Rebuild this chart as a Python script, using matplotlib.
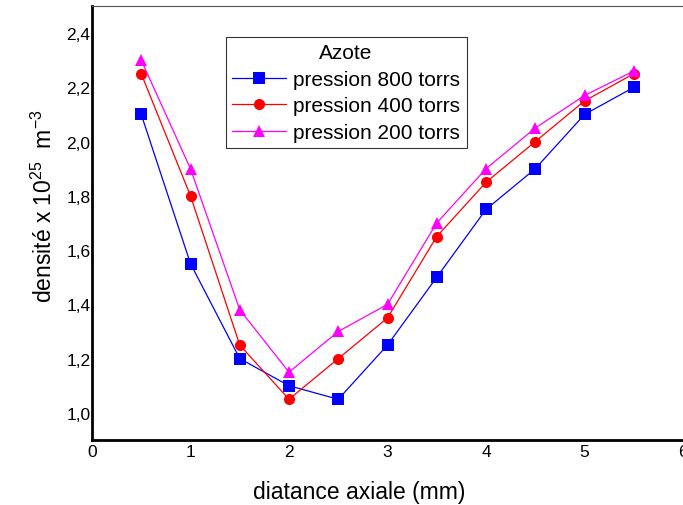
import numpy as np
import matplotlib.pyplot as plt

plt.rcParams['font.family'] = ['Liberation Sans', 'DejaVu Sans']
plt.rcParams['mathtext.fontset'] = 'custom'
plt.rcParams['mathtext.rm'] = 'Liberation Sans'

# data
distance = [0.5, 1.0, 1.5, 2.0, 2.5, 3.0, 3.5, 4.0, 4.5, 5.0, 5.5]
p800 = [2.10, 1.55, 1.20, 1.10, 1.05, 1.25, 1.50, 1.75, 1.90, 2.10, 2.20]
p400 = [2.25, 1.80, 1.25, 1.05, 1.20, 1.35, 1.65, 1.85, 2.00, 2.15, 2.25]
p200 = [2.30, 1.90, 1.38, 1.15, 1.30, 1.40, 1.70, 1.90, 2.05, 2.17, 2.26]

series = [
    (p800, '#0000FF', 's', 'pression 800 torrs'),
    (p400, '#FF0000', 'o', 'pression 400 torrs'),
    (p200, '#FF00FF', '^', 'pression 200 torrs'),
]

fig = plt.figure(figsize=(6.83, 5.06), dpi=100)
ax = fig.add_axes([0.1347, 0.1285, 0.8653, 0.8577])

for y, col, mk, lab in series:
    ax.plot(distance, y, color=col, linewidth=0.9, marker=mk,
            markersize=8, markeredgewidth=0, label=lab)

ax.set_xlim(0, 6)
ax.set_ylim(0.9, 2.5)
ax.set_xticks(range(7))
ax.set_yticks([1.0, 1.2, 1.4, 1.6, 1.8, 2.0, 2.2, 2.4])
ax.set_yticklabels(['1,0', '1,2', '1,4', '1,6', '1,8', '2,0', '2,2', '2,4'])
ax.tick_params(length=0, labelsize=12.5, pad=1)
ax.tick_params(axis='x', pad=3)

ax.spines['right'].set_visible(False)
ax.spines[['left', 'bottom']].set_linewidth(2)
ax.spines['top'].set_linewidth(0.8)
ax.spines['top'].set_color('#555555')

ax.set_xlabel('diatance axiale (mm)', fontsize=16.5)
ax.xaxis.set_label_coords(0.452, -0.093)
ax.set_ylabel(r'densité x 10$^{\mathregular{25}}$  m$^{\mathregular{-3}}$',
              fontsize=16.5)
ax.yaxis.set_label_coords(-0.06, 0.54)

leg = ax.legend(title='Azote', loc='upper left', bbox_to_anchor=(0.226, 0.928),
                fontsize=15, title_fontsize=15, frameon=True, fancybox=False,
                handlelength=2.6, borderpad=0.3, labelspacing=0.36,
                handletextpad=0.35, borderaxespad=0)
leg.get_frame().set_edgecolor('black')
leg.get_frame().set_linewidth(0.8)

fig.savefig('out.png', dpi=100)
